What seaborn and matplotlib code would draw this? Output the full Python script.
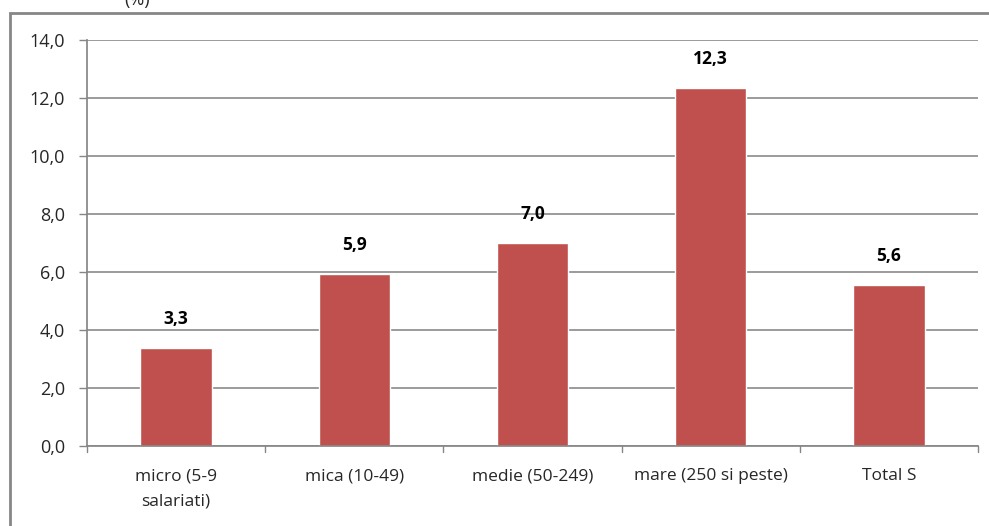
import matplotlib
matplotlib.use("Agg")
import matplotlib.pyplot as plt
import seaborn as sns
import pandas as pd
from matplotlib.patches import Rectangle

categories = ["micro (5-9\nsalariati)", "mica (10-49)", "medie (50-249)", "mare (250 si peste)", "Total S"]
values = [3.38, 5.92, 7.0, 12.35, 5.55]
labels = ["3,3", "5,9", "7,0", "12,3", "5,6"]
yticks = [0, 2, 4, 6, 8, 10, 12, 14]
ytick_labels = ["0,0", "2,0", "4,0", "6,0", "8,0", "10,0", "12,0", "14,0"]

sns.set_theme(style="white")
plt.rcParams['font.family'] = ['Open Sans', 'DejaVu Sans']

df = pd.DataFrame({"cat": categories, "val": values})

fig = plt.figure(figsize=(9.89, 5.26), dpi=100)
ax = fig.add_axes([87/989, 1-446/526, (978-87)/989, (446-40)/526])

sns.barplot(data=df, x="cat", y="val", color="#C0504D", width=0.4, saturation=1, ax=ax)

ax.set_ylim(0, 14)
ax.set_xlim(-0.5, len(categories) - 0.5)
ax.set_yticks(yticks)
ax.set_yticklabels(ytick_labels, fontsize=13, color="#262626")
ax.set_xlabel("")
ax.set_ylabel("")
ax.tick_params(axis="x", labelsize=12.5, colors="#262626", length=0, pad=16)
for t in ax.get_xticklabels():
    t.set_linespacing(1.75)
ax.tick_params(axis="y", length=6, width=1, color="#868686", direction="out", pad=10, left=True)

ax.yaxis.grid(True, color="#808080", linewidth=1.1)
ax.set_axisbelow(True)
for s in ["top", "right"]:
    ax.spines[s].set_visible(False)
ax.spines["left"].set_color("#868686")
ax.spines["bottom"].set_color("#868686")

# category separator ticks on x axis
for xb in [i - 0.5 for i in range(len(categories) + 1)]:
    ax.plot([xb, xb], [0, -0.2], color="#868686", lw=1, clip_on=False,
            transform=ax.transData)

for i, (v, lab) in enumerate(zip(values, labels)):
    ax.text(i, v + 0.7, lab, ha="center", va="bottom", fontsize=12.5, fontweight="bold", color="#000000")

# outer chart frame
fig.patches.append(Rectangle((9.5/989, -0.05), 1.1, (526-12.5)/526 + 0.05, transform=fig.transFigure,
                             fill=False, edgecolor="#868686", linewidth=2))
fig.text(137/989, 1.0, "(%)", ha="center", va="center", fontsize=13, color="#262626")

fig.savefig("out.png", dpi=100)
